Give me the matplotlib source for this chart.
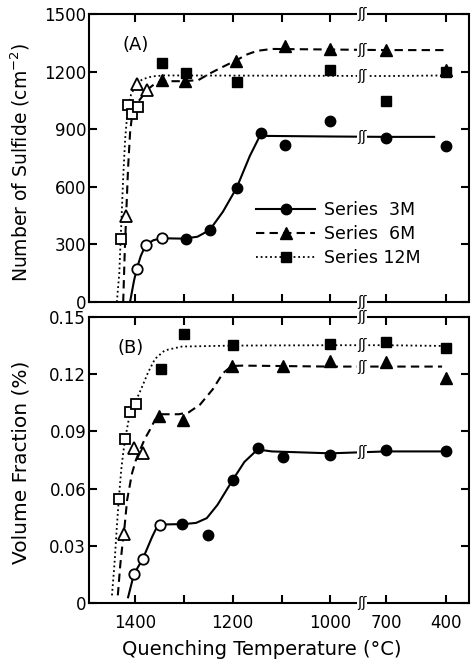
import numpy as np
import matplotlib.pyplot as plt
from matplotlib.lines import Line2D

# ---- data (temperature in degC) ----
# the first n_open points of each series are drawn with open symbols

# (A) number of sulfide, cm^-2
a3_temp = [1396, 1378, 1345, 1296, 1247, 1192, 1143, 1092, 1000, 700, 400]
a3_val = [170, 297, 333, 328, 375, 594, 880, 818, 943, 854, 812]
a3_open = 3
a6_temp = [1418, 1396, 1376, 1345, 1298, 1194, 1092, 1000, 700, 400]
a6_val = [448, 1135, 1104, 1156, 1151, 1255, 1333, 1318, 1312, 1208]
a6_open = 3
a12_temp = [1429, 1414, 1406, 1394, 1345, 1296, 1192, 1000, 700, 400]
a12_val = [328, 1026, 979, 1015, 1245, 1193, 1146, 1208, 1047, 1198]
a12_open = 4

# hand-drawn guide curves of panel A
a3_curve_t = [1410, 1402, 1396, 1388, 1378, 1362, 1345, 1300, 1272, 1247, 1220,
              1192, 1165, 1143, 1130, 1000, 700, 460]
a3_curve_v = [0, 110, 175, 240, 297, 322, 332, 330, 340, 375, 470,
              594, 760, 872, 865, 862, 860, 860]
a6_curve_t = [1424, 1421, 1418, 1414, 1410, 1406, 1396, 1386, 1376, 1360, 1345,
              1300, 1270, 1247, 1220, 1194, 1170, 1150, 1120, 1000, 700, 395]
a6_curve_v = [0, 250, 448, 700, 880, 970, 1035, 1067, 1104, 1135, 1150,
              1150, 1156, 1190, 1225, 1257, 1290, 1308, 1318, 1315, 1312, 1312]
a12_curve_t = [1437, 1432, 1428, 1424, 1420, 1415, 1408, 1398, 1385, 1365,
               1340, 1000, 700, 400]
a12_curve_v = [0, 150, 400, 650, 850, 1000, 1080, 1130, 1160, 1175,
               1180, 1178, 1177, 1180]

# (B) volume fraction, %
b3_temp = [1402, 1384, 1349, 1304, 1251, 1200, 1149, 1098, 1000, 700, 400]
b3_val = [0.0152, 0.0231, 0.0410, 0.0414, 0.0357, 0.0645, 0.0813, 0.0766,
          0.0776, 0.0802, 0.0797]
b3_open = 3
b6_temp = [1422, 1402, 1384, 1351, 1302, 1202, 1098, 1000, 700, 400]
b6_val = [0.0362, 0.0813, 0.0787, 0.0981, 0.0960, 0.1243, 0.1243, 0.1270,
          0.1264, 0.1180]
b6_open = 3
b12_temp = [1433, 1420, 1410, 1398, 1347, 1300, 1200, 1000, 700, 400]
b12_val = [0.0545, 0.0860, 0.1002, 0.1044, 0.1227, 0.1410, 0.1353, 0.1358,
           0.1369, 0.1337]
b12_open = 4

b3_curve_t = [1414, 1402, 1384, 1365, 1355, 1340, 1300, 1275, 1253, 1231, 1200,
              1176, 1149, 1120, 1000, 700, 400]
b3_curve_v = [0.003, 0.0152, 0.0231, 0.0346, 0.0399, 0.0412, 0.0414, 0.0420,
              0.0445, 0.0515, 0.0645, 0.0740, 0.0805, 0.0795, 0.0785, 0.0795, 0.0795]
b6_curve_t = [1435, 1430, 1425, 1422, 1416, 1406, 1398, 1390, 1380, 1369, 1359,
              1345, 1310, 1290, 1267, 1241, 1220, 1202, 1180, 1000, 700, 420]
b6_curve_v = [0.004, 0.020, 0.032, 0.038, 0.054, 0.068, 0.075, 0.080, 0.086,
              0.091, 0.096, 0.099, 0.099, 0.100, 0.104, 0.112, 0.1205, 0.1243,
              0.1245, 0.124, 0.124, 0.124]
b12_curve_t = [1447, 1442, 1437, 1433, 1428, 1424, 1420, 1410, 1398, 1386, 1373,
               1359, 1339, 1304, 1200, 1000, 700, 400]
b12_curve_v = [0.004, 0.020, 0.040, 0.0545, 0.070, 0.0787, 0.086, 0.100, 0.106,
               0.113, 0.121, 0.128, 0.1325, 0.1345, 0.135, 0.1352, 0.1352, 0.1348]

x_ticks = [1400, 1300, 1200, 1100, 1000, 700, 400]
x_labels = ['1400', '', '1200', '', '1000', '700', '400']
legend_labels = ['Series  3M', 'Series  6M', 'Series 12M']

# broken temperature axis: 1000 -> 700 squeezed, below 700 compressed
K_MID = 0.381
K_LOW = 0.408
U700 = 1000 - 300 * K_MID
BREAK_T = 830


def fwd(t):
    t = np.asarray(t, dtype=float)
    return np.where(t >= 1000, t,
                    np.where(t >= 700, 1000 - (1000 - t) * K_MID,
                             U700 - (700 - t) * K_LOW))


def inv(u):
    u = np.asarray(u, dtype=float)
    return np.where(u >= 1000, u,
                    np.where(u >= U700, 1000 - (1000 - u) / K_MID,
                             700 - (U700 - u) / K_LOW))


def break_mark(ax, y, transform=None):
    ax.text(BREAK_T, y, 'ʃʃ', transform=transform or ax.transData,
            ha='center', va='center', fontsize=10, zorder=6, clip_on=False,
            bbox=dict(fc='white', ec='none', pad=0.3))


styles = {'3': ('-', 'o', 7.5), '6': ((0, (4, 2.5)), '^', 8), '12': ((0, (1, 1.6)), 's', 7)}

plt.rcParams['font.family'] = 'DejaVu Sans'
plt.rcParams['font.size'] = 12

fig = plt.figure(figsize=(4.72, 6.68), dpi=100)
ax1 = fig.add_axes([89 / 472, 1 - 302 / 668, 380 / 472, 288 / 668])
ax2 = fig.add_axes([89 / 472, 1 - 603 / 668, 380 / 472, 286 / 668])

panels = [
    (ax1, [(a3_temp, a3_val, a3_open, a3_curve_t, a3_curve_v, '3'),
           (a6_temp, a6_val, a6_open, a6_curve_t, a6_curve_v, '6'),
           (a12_temp, a12_val, a12_open, a12_curve_t, a12_curve_v, '12')]),
    (ax2, [(b3_temp, b3_val, b3_open, b3_curve_t, b3_curve_v, '3'),
           (b6_temp, b6_val, b6_open, b6_curve_t, b6_curve_v, '6'),
           (b12_temp, b12_val, b12_open, b12_curve_t, b12_curve_v, '12')]),
]

for ax, series in panels:
    ax.set_xscale('function', functions=(fwd, inv))
    for temp, val, n_open, ct, cv, key in series:
        ls, mk, ms = styles[key]
        lw = 1.3 if key == '12' else 1.5
        ax.plot(ct, cv, color='k', lw=lw, ls=ls, zorder=2)
        ax.plot(temp[:n_open], val[:n_open], ls='none', marker=mk, ms=ms,
                mfc='white', mec='k', mew=1.3, zorder=3)
        ax.plot(temp[n_open:], val[n_open:], ls='none', marker=mk, ms=ms,
                color='k', zorder=3)
        # break symbol on each curve
        y_break = np.interp(-BREAK_T, -np.asarray(ct), cv)
        break_mark(ax, y_break)
    ax.set_xlim(1494, 285)
    ax.set_xticks(x_ticks)
    ax.tick_params(direction='in', top=True, right=True, length=6, width=1.5,
                   labelsize=12, pad=2)
    ax.tick_params(axis='x', pad=8)
    for sp in ax.spines.values():
        sp.set_linewidth(1.5)
    break_mark(ax, 0, ax.get_xaxis_transform())
    break_mark(ax, 1, ax.get_xaxis_transform())

ax1.set_ylim(0, 1500)
ax1.set_yticks([0, 300, 600, 900, 1200, 1500])
ax1.set_xticklabels([])
ax1.set_ylabel('Number of Sulfide (cm$^{-2}$)', fontsize=13.5)
ax1.yaxis.set_label_coords(-0.15, 0.486)
ax1.text(0.087, 0.892, '(A)', transform=ax1.transAxes, fontsize=13, va='center')

ax2.set_ylim(0, 0.15)
ax2.set_yticks([0, 0.03, 0.06, 0.09, 0.12, 0.15])
ax2.set_yticklabels(['0', '0.03', '0.06', '0.09', '0.12', '0.15'])
ax2.set_xticklabels(x_labels)
ax2.set_ylabel('Volume Fraction (%)', fontsize=14.5)
ax2.yaxis.set_label_coords(-0.155, 0.493)
ax2.set_xlabel('Quenching Temperature (°C)', fontsize=14)
ax2.xaxis.set_label_coords(0.454, -0.13)
ax2.text(0.076, 0.892, '(B)', transform=ax2.transAxes, fontsize=13, va='center')

handles = []
for key in ['3', '6', '12']:
    ls, mk, ms = styles[key]
    handles.append(Line2D([], [], color='k', ls=ls, lw=1.5 if key != '12' else 1.3,
                          marker=mk, ms=ms))
ax1.legend(handles, legend_labels, loc='upper left', bbox_to_anchor=(0.44, 0.35),
           frameon=False, handlelength=3.4, handletextpad=0.5, labelspacing=0.35,
           borderpad=0, borderaxespad=0, fontsize=12.5)

fig.savefig('out.png', dpi=100)
